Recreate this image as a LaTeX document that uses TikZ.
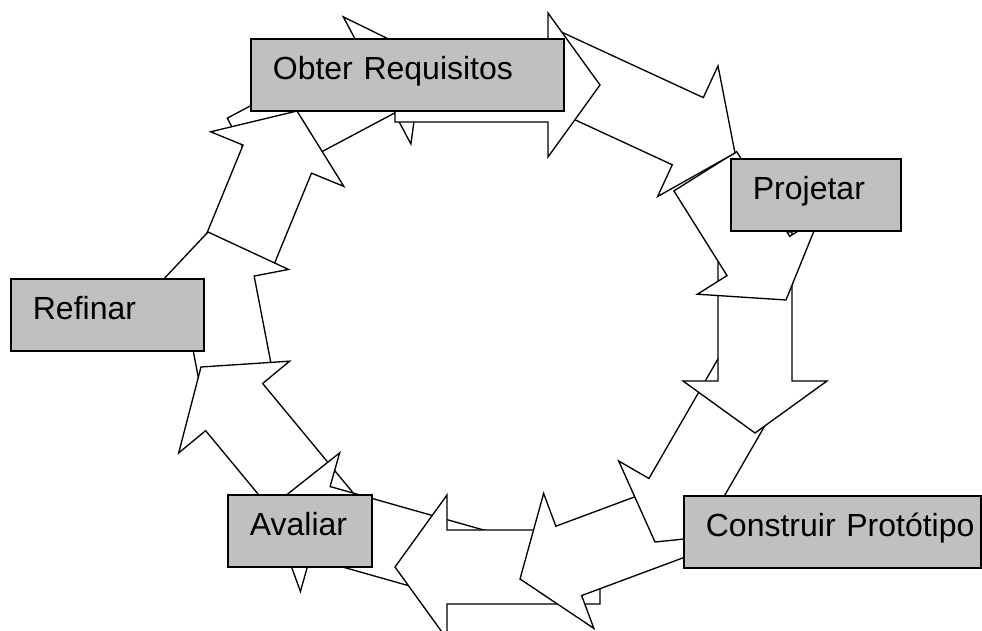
\documentclass[tikz,border=0pt]{standalone}
\usepackage{fontspec}
\setmainfont{Liberation Sans}
\usepackage{tikz}
\definecolor{cinza}{RGB}{192,192,192}
% block arrow: tip, rotation, total length (in px)
\newcommand{\setabloco}[3]{%
  \draw[bloco, shift={(#1)}, rotate=#2] (0,0) -- (-52,-72) -- (-52,-37) -- (-#3,-37) -- (-#3,37) -- (-52,37) -- (-52,72) -- cycle;}

\begin{document}
\begin{tikzpicture}[
    x=0.75pt, y=-0.75pt,
    bloco/.style={draw=black, fill=white, line width=1pt, line join=miter},
    etapa/.style={rectangle, draw=black, fill=cinza, line width=1.3pt, anchor=north west, align=left, inner xsep=16.5pt, inner ysep=0pt, text height=30.75pt, text depth=23.25pt, font=\fontsize{24pt}{28pt}\selectfont}
]
    \useasboundingbox (0,0) rectangle (982,631);

    % Ring of arrows, back to front
    \setabloco{423,56}{28}{202}
    \setabloco{297,111}{67.7}{152}
    \setabloco{208,232}{100.9}{147}
    \setabloco{201,367}{129.6}{202}
    \setabloco{270,508}{164.2}{217}
    \setabloco{395,567}{180}{205}
    \setabloco{520,579}{-159.6}{202}
    \setabloco{655,542}{-120}{202}
    \setabloco{755,433}{-90}{201}
    \setabloco{786,300}{-57.9}{152}
    \setabloco{735,153}{-24.8}{214}
    \setabloco{600,85}{0}{205}

    % Steps
    \node[etapa, text width=201.75pt] (obter) at (250,38) {Obter Requisitos};
    \node[etapa, text width=94.5pt] (projetar) at (730,158) {Projetar};
    \node[etapa, text width=189.75pt] (construir) at (683,495) {\mbox{Construir Protótipo}};
    \node[etapa, text width=75pt] (avaliar) at (227,494) {Avaliar};
    \node[etapa, text width=111.75pt] (refinar) at (10,278) {Refinar};

\end{tikzpicture}
\end{document}
